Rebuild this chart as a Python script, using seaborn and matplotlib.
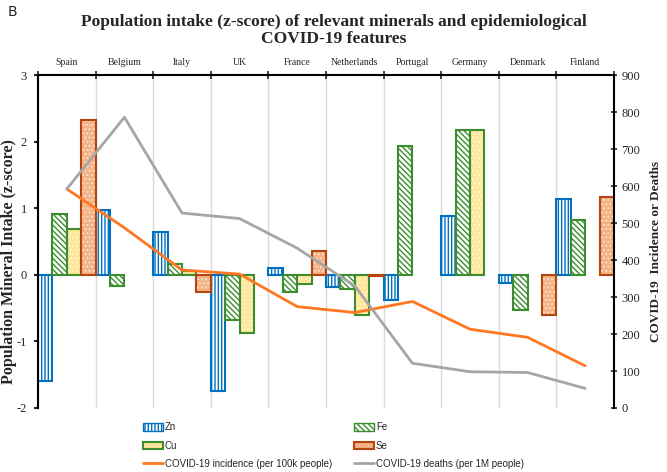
import numpy as np
import pandas as pd
import matplotlib
matplotlib.use("Agg")
import matplotlib.pyplot as plt
from matplotlib.patches import Patch
from matplotlib.lines import Line2D
import seaborn as sns

sns.set_theme(style="white")
plt.rcParams['font.family'] = ['Liberation Serif', 'DejaVu Serif']
plt.rcParams['hatch.linewidth'] = 1.0
plt.rcParams['axes.unicode_minus'] = False

# data
countries = ['Spain', 'Belgium', 'Italy', 'UK', 'France', 'Netherlands',
             'Portugal', 'Germany', 'Denmark', 'Finland']
minerals = ['Zn', 'Fe', 'Cu', 'Se']
zn = [-1.59, 0.98, 0.64, -1.74, 0.10, -0.19, -0.38, 0.89, -0.12, 1.14]
fe = [0.92, -0.17, 0.16, -0.68, -0.26, -0.22, 1.93, 2.17, -0.53, 0.82]
cu = [0.69, np.nan, 0.06, -0.87, -0.14, -0.61, np.nan, 2.17, np.nan, np.nan]
se = [2.33, np.nan, -0.26, np.nan, 0.36, -0.02, np.nan, np.nan, -0.60, 1.17]
incidence = [592, 487, 373, 362, 274, 258, 288, 213, 191, 114]
deaths = [592, 786, 527, 512, 432, 330, 121, 98, 96, 53]

df = pd.DataFrame({
    'country': np.repeat(countries, 4),
    'mineral': minerals * len(countries),
    'z': np.array([zn, fe, cu, se]).T.ravel(),
})

face = {'Zn': 'white', 'Fe': 'white', 'Cu': '#FFE699', 'Se': '#F4B183'}
edge = {'Zn': '#0070C0', 'Fe': '#3C8D2F', 'Cu': '#3C8D2F', 'Se': '#B4450E'}
hcol = {'Zn': '#0070C0', 'Fe': '#3C8D2F', 'Cu': '#FFF5D0', 'Se': '#FBE0CC'}
hatch = {'Zn': '|||||', 'Fe': '\\\\\\\\\\\\', 'Cu': '....', 'Se': '....'}

fig = plt.figure(figsize=(6.67, 4.72), dpi=100)
ax = fig.add_axes([0.057, 0.1356, 0.8635, 0.7054])

# pass 1: fills + hatches
sns.barplot(data=df, x='country', y='z', hue='mineral', hue_order=minerals,
            order=countries, palette=face, width=1, saturation=1,
            legend=False, ax=ax, errorbar=None)
for cont, m in zip(ax.containers, minerals):
    for p in cont:
        p.set_facecolor(face[m])
        p.set_edgecolor(hcol[m])
        p.set_linewidth(0)
        p.set_hatch(hatch[m])
n1 = len(ax.containers)
# pass 2: outlines
sns.barplot(data=df, x='country', y='z', hue='mineral', hue_order=minerals,
            order=countries, palette=face, width=1, saturation=1,
            legend=False, ax=ax, errorbar=None)
for cont, m in zip(ax.containers[n1:], minerals):
    for p in cont:
        p.set_facecolor('none')
        p.set_edgecolor(edge[m])
        p.set_linewidth(1.5)
        p.set_hatch(None)

ax.set_ylim(-2, 3)
ax.set_xlim(-0.5, len(countries) - 0.5)
ax.set_yticks([-2, -1, 0, 1, 2, 3])
ax.tick_params(axis='y', which='major', direction='out', length=3, width=1.5,
               left=True, labelsize=9, pad=5)

ax.xaxis.tick_top()
ax.set_xticks(range(len(countries)))
ax.set_xticklabels(countries, fontsize=7)
ax.tick_params(axis='x', which='major', length=0, pad=6)
ax.set_xticks(np.arange(len(countries) + 1) - 0.5, minor=True)
ax.tick_params(axis='x', which='minor', direction='inout', length=6, width=1.2,
               top=True, bottom=False)
ax.grid(False)
ax.grid(True, axis='x', which='minor', color='#D9D9D9', linewidth=1)
ax.set_xlabel('')
ax.set_ylabel('Population Mineral Intake (z-score)', fontsize=11.5,
              fontweight='bold')
ax.yaxis.set_label_coords(-0.036, 0.44)

for s in ['top', 'left']:
    ax.spines[s].set_visible(True)
    ax.spines[s].set_color('black')
    ax.spines[s].set_linewidth(1.5)
ax.spines['bottom'].set_visible(False)
ax.spines['right'].set_visible(False)

ax2 = ax.twinx()
xpos = np.arange(len(countries))
sns.lineplot(x=xpos, y=incidence, color='#FF7722', linewidth=2, ax=ax2)
sns.lineplot(x=xpos, y=deaths, color='#A6A6A6', linewidth=2, ax=ax2)
ax2.set_ylim(0, 900)
ax2.set_yticks(range(0, 901, 100))
ax2.tick_params(axis='y', direction='inout', length=5, width=1.2, right=True,
                labelsize=9, pad=3)
ax2.set_ylabel('COVID-19  Incidence or Deaths', fontsize=9.5, fontweight='bold')
ax2.yaxis.set_label_coords(1.062, 0.47)
ax2.grid(False)
for s in ['top', 'left', 'bottom']:
    ax2.spines[s].set_visible(False)
ax2.spines['right'].set_visible(True)
ax2.spines['right'].set_color('black')
ax2.spines['right'].set_linewidth(1.5)
ax2.set_xlim(-0.5, len(countries) - 0.5)

fig.text(0.5, 0.953, 'Population intake (z-score) of relevant minerals and epidemiological',
         ha='center', va='center', fontsize=12.5, fontweight='bold')
fig.text(0.5, 0.918, 'COVID-19 features', ha='center', va='center',
         fontsize=12.5, fontweight='bold')
fig.text(0.012, 0.975, 'B', ha='left', va='center', fontsize=10,
         family=['DejaVu Sans'])

handles = [
    Patch(facecolor=face['Zn'], edgecolor=edge['Zn'], hatch=hatch['Zn'], label='Zn'),
    Patch(facecolor=face['Cu'], edgecolor=edge['Cu'], linewidth=1.5, label='Cu'),
    Line2D([0], [0], color='#FF7722', linewidth=2, label='COVID-19 incidence (per 100k people)'),
    Patch(facecolor=face['Fe'], edgecolor=edge['Fe'], hatch=hatch['Fe'], label='Fe'),
    Patch(facecolor=face['Se'], edgecolor=edge['Se'], linewidth=1.5, label='Se'),
    Line2D([0], [0], color='#A6A6A6', linewidth=2, label='COVID-19 deaths (per 1M people)'),
]
fig.legend(handles=handles, loc='upper left', bbox_to_anchor=(0.215, 0.105),
           ncol=2, frameon=False, prop={'family': 'Liberation Sans', 'size': 7},
           handlelength=2.0, handleheight=0.8, handletextpad=0.2,
           columnspacing=2.3, labelspacing=0.85, borderaxespad=0, borderpad=0)

fig.savefig('out.png', dpi=100)
